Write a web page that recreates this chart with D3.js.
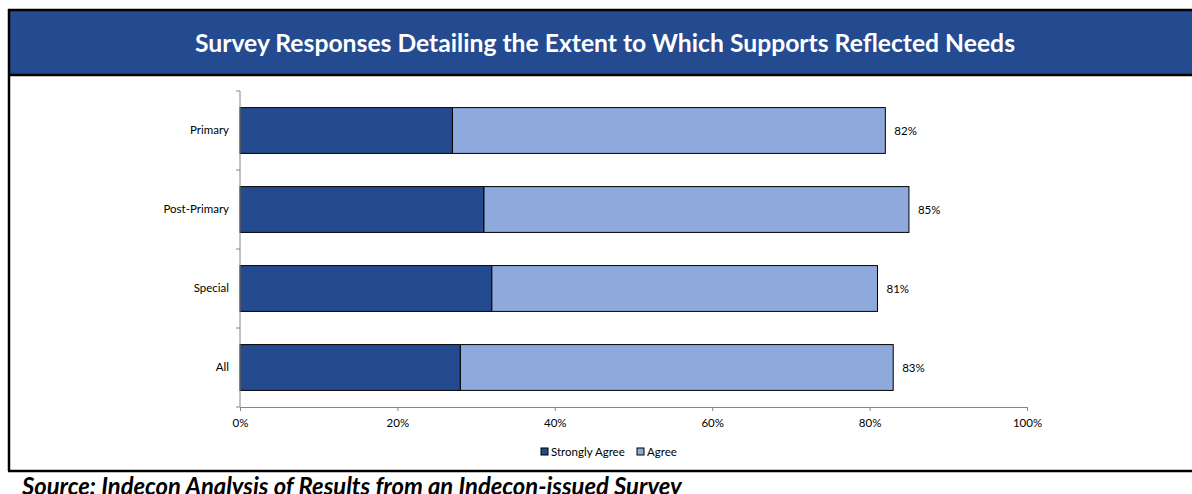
<!DOCTYPE html>
<html>
<head>
<meta charset="utf-8">
<script src="https://cdn.jsdelivr.net/npm/d3@7"></script>
<style>
  html, body { margin: 0; padding: 0; background: #ffffff; }
  svg { display: block; }
</style>
</head>
<body>
<svg id="chart" width="1192" height="494"></svg>
<script>
// Survey categories and response shares (%)
const categories = ["Primary", "Post-Primary", "Special", "All"];
const stronglyAgree = [27, 31, 32, 28];
const agree = [55, 54, 49, 55];
const totalLabels = ["82%", "85%", "81%", "83%"];
const xTicks = [0, 20, 40, 60, 80, 100];
const seriesNames = ["Strongly Agree", "Agree"];

const titleText = "Survey Responses Detailing the Extent to Which Supports Reflected Needs";
const sourceText = "Source: Indecon Analysis of Results from an Indecon-issued Survey";

const W = 1192, H = 494;
const darkBlue = "#244a8f";
const lightBlue = "#8eaadc";
const font = "Lato, 'Open Sans', sans-serif";
const small = 11.5;

const svg = d3.select("#chart");

// Scale a text's font size so that it spans the given width
function fitWidth(sel, width) {
  const fs = parseFloat(sel.attr("font-size"));
  const w = sel.node().getComputedTextLength();
  sel.attr("font-size", (fs * width / w).toFixed(2));
}

// Title band
svg.append("rect").attr("x", 9).attr("y", 10).attr("width", W).attr("height", 65)
  .attr("fill", darkBlue);
const title = svg.append("text")
  .attr("x", 605).attr("y", 52)
  .attr("text-anchor", "middle")
  .attr("fill", "#ffffff")
  .attr("font-family", font)
  .attr("font-weight", "bold")
  .attr("font-size", 22)
  .text(titleText);
fitWidth(title, 820);

// Frame lines
const frame = svg.append("g").attr("stroke", "#000").attr("stroke-width", 2.5);
frame.append("line").attr("x1", 8).attr("x2", W).attr("y1", 10).attr("y2", 10);
frame.append("line").attr("x1", 8).attr("x2", W).attr("y1", 75).attr("y2", 75);
frame.append("line").attr("x1", 9).attr("x2", 9).attr("y1", 9).attr("y2", 471);
frame.append("line").attr("x1", 8).attr("x2", W).attr("y1", 471).attr("y2", 471);

// Source note
const source = svg.append("text")
  .attr("x", 22).attr("y", 495)
  .attr("font-family", font)
  .attr("font-weight", "bold")
  .attr("font-style", "italic")
  .attr("font-size", 20)
  .attr("fill", "#000")
  .text(sourceText);
fitWidth(source, 660);

// Plot scales
const x = d3.scaleLinear().domain([0, 100]).range([240, 1027]);
const y = d3.scaleBand().domain(categories).range([91, 407]).paddingInner(0.42).paddingOuter(0.21);

const rows = categories.map((c, i) => ({
  cat: c, sa: stronglyAgree[i], ag: agree[i], label: totalLabels[i]
}));

// Bars
const bars = svg.append("g");
bars.selectAll("rect.sa").data(rows).join("rect")
  .attr("class", "sa")
  .attr("x", x(0))
  .attr("y", d => y(d.cat))
  .attr("width", d => x(d.sa) - x(0))
  .attr("height", y.bandwidth())
  .attr("fill", darkBlue)
  .attr("stroke", "#000").attr("stroke-width", 1);
bars.selectAll("rect.ag").data(rows).join("rect")
  .attr("class", "ag")
  .attr("x", d => x(d.sa))
  .attr("y", d => y(d.cat))
  .attr("width", d => x(d.sa + d.ag) - x(d.sa))
  .attr("height", y.bandwidth())
  .attr("fill", lightBlue)
  .attr("stroke", "#000").attr("stroke-width", 1);

// Total labels
svg.append("g").selectAll("text").data(rows).join("text")
  .attr("x", d => x(d.sa + d.ag) + 9)
  .attr("y", d => y(d.cat) + y.bandwidth() / 2)
  .attr("dy", "0.35em")
  .attr("font-family", font)
  .attr("font-size", small)
  .attr("fill", "#000")
  .text(d => d.label);

// Axes
const xAxis = d3.axisBottom(x).tickValues(xTicks).tickFormat(d => d + "%").tickSizeInner(4).tickSizeOuter(4).tickPadding(8);
const gx = svg.append("g").attr("transform", "translate(0,407)").call(xAxis);
gx.select(".domain").attr("stroke", "#868686");
gx.selectAll(".tick line").attr("stroke", "#868686");
gx.selectAll("text").attr("font-family", font).attr("font-size", small).attr("fill", "#000");

// Category axis with ticks on band boundaries
const yAxis = d3.axisLeft(y).tickSize(0).tickPadding(11);
const gy = svg.append("g").attr("transform", "translate(240,0)").call(yAxis);
gy.select(".domain").attr("stroke", "#868686").attr("d", "M0,91V407");
gy.selectAll("text").attr("font-family", font).attr("font-size", small).attr("fill", "#000");
const boundaries = d3.range(categories.length + 1).map(i => 91 + i * (316 / categories.length));
gy.selectAll("line.bound").data(boundaries).join("line")
  .attr("class", "bound")
  .attr("x1", -4).attr("x2", 0)
  .attr("y1", d => d).attr("y2", d => d)
  .attr("stroke", "#868686");

// Legend
const legend = svg.append("g").attr("font-family", font).attr("font-size", small);
const legendItems = [
  { name: seriesNames[0], color: darkBlue, x: 541 },
  { name: seriesNames[1], color: lightBlue, x: 637 }
];
legendItems.forEach(it => {
  legend.append("rect").attr("x", it.x).attr("y", 448).attr("width", 7).attr("height", 7)
    .attr("fill", it.color).attr("stroke", "#000").attr("stroke-width", 1);
  legend.append("text").attr("x", it.x + 10).attr("y", 452).attr("dy", "0.35em")
    .attr("fill", "#000").text(it.name);
});
</script>
</body>
</html>
